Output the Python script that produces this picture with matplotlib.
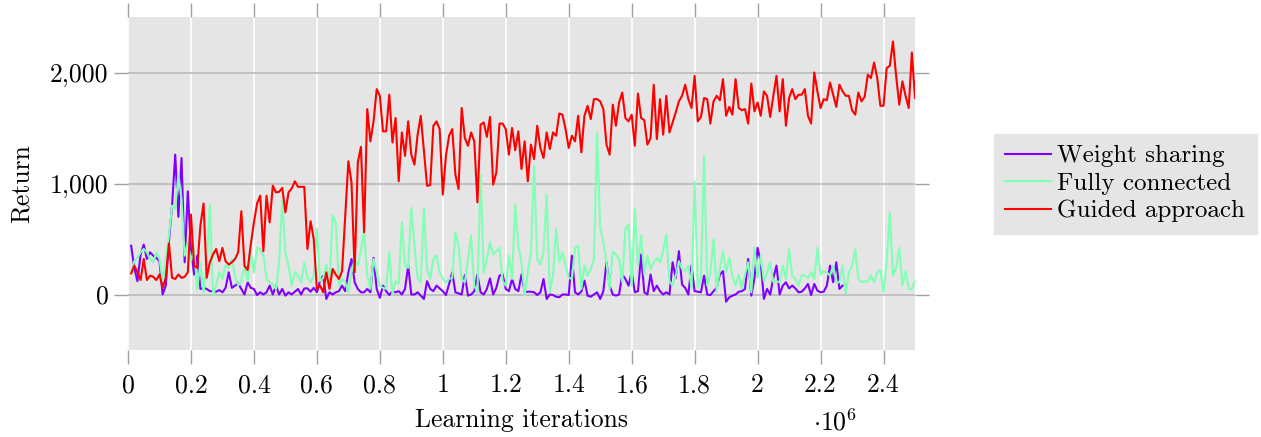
import numpy as np
import matplotlib
matplotlib.use("Agg")
import matplotlib.pyplot as plt
from matplotlib.ticker import FuncFormatter, MultipleLocator

# returns, one value every 1e4 iterations (starting at 1e4)
weight_sharing = [
    440, 240, 120, 360, 450, 320, 380, 350, 330, 300,
    0, 80, 480, 800, 1260, 700, 1230, 290, 930, 410,
    180, 350, 50, 60, 50, 30, 30, 25, 40, 20,
    60, 200, 60, 80, 100, 50, 0, 110, 60, 50,
    -5, 20, 0, 20, 80, 0, 80, 0, 50, -10,
    20, 0, 25, 50, 0, 55, 55, 25, 60, 20,
    120, 170, -40, 20, 0, 20, 30, 80, 30, 200,
    320, 110, 50, 20, 20, 50, 20, 330, 50, -30,
    80, 30, -5, 30, 20, 30, 0, 50, 260, 0,
    0, 20, -10, -40, 120, 50, 30, 80, 55, 30,
    -5, 95, 200, 20, 10, 0, 175, -10, 0, 30,
    180, 20, 0, 50, 145, 0, 60, 170, 180, 50,
    30, 140, 50, 30, 180, 20, 25, 25, 20, -5,
    20, 140, -40, 0, -5, -20, -25, 0, 0, -5,
    350, 20, 0, 25, 125, -10, -20, 0, 20, -40,
    30, 290, 80, 0, -10, 0, 180, 140, 80, 200,
    20, 30, 360, 20, 0, 180, 30, 80, 30, 0,
    20, 0, 290, 150, 390, 90, 60, 0, 260, 30,
    25, 20, 170, 0, -5, 30, 60, 180, 210, -65,
    -25, -10, 0, 25, 30, 50, 320, -10, 150, 420,
    290, -40, 50, 0, 150, 260, 0, 80, 110, 55,
    80, 55, 20, 25, 55, 95, -5, 95, 35, 20,
    25, 80, 260, 110, 290, 50, 80,
]

fully_connected = [
    200, 300, 330, 380, 410, 380, 320, 290, 380, 320,
    120, 320, 530, 800, 770, 1080, 860, 350, 470, 300,
    410, 50, 290, 20, 260, 810, -10, 80, 200, 140,
    260, 240, 320, 170, 80, 120, 260, 120, 380, 200,
    420, 410, 350, 140, 110, 90, 50, 290, 840, 380,
    260, 80, 200, 170, 110, 290, 150, 110, 170, 590,
    120, 150, 270, 110, 710, 650, 80, 140, 110, 20,
    200, 320, 260, 400, 560, 170, 50, 320, 200, 80,
    60, 50, 380, 0, 120, 100, 650, 260, 240, 780,
    440, 150, 110, 780, 230, 140, 320, 350, 200, 140,
    110, 140, 150, 560, 440, 140, 110, 320, 530, 80,
    20, 1080, 200, 320, 470, 360, 390, 420, 120, 80,
    350, 140, 810, 440, 290, -10, 200, 380, 1160, 320,
    270, 390, 900, 20, 170, 590, 290, 380, 260, 150,
    140, 420, 440, 50, 260, 170, 230, 320, 1460, 600,
    470, 290, 50, 390, 360, 320, 110, 590, 630, 80,
    770, 260, 530, 180, 350, 230, 290, 330, 290, 390,
    540, 120, 80, 170, 300, 230, 210, 260, 60, 1020,
    60, 150, 1250, 80, 200, 500, 30, 230, 390, 200,
    330, 170, 80, 180, 50, 180, 290, 20, 420, 150,
    350, 120, 200, 290, 110, 120, 110, 260, 140, 410,
    170, 140, 80, 175, 170, 150, 200, 140, 420, 180,
    210, 200, 170, 260, 110, 110, 260, 10, 200, 260,
    410, 140, 110, 120, 110, 170, 110, 200, 220, 20,
    300, 740, 170, 240, 420, 80, 210, 50, 50, 120,
]

guided = [
    190, 260, 200, 130, 320, 130, 170, 160, 130, 180,
    60, 150, 460, 150, 140, 180, 150, 160, 200, 720,
    260, 240, 620, 820, 150, 290, 360, 410, 300, 420,
    300, 270, 290, 320, 380, 750, 260, 220, 450, 650,
    820, 890, 390, 890, 650, 980, 920, 925, 960, 740,
    920, 955, 1020, 970, 970, 970, 410, 660, 500, 50,
    80, 20, 200, 50, 230, 180, 140, 210, 700, 1200,
    1010, 200, 1190, 1330, 560, 1670, 1380, 1560, 1850, 1790,
    1470, 1470, 1800, 1370, 1590, 1020, 1460, 1250, 1560, 1260,
    1170, 1440, 1610, 1290, 980, 985, 1520, 1560, 1490, 900,
    1250, 1430, 1490, 1080, 950, 1680, 1410, 1340, 1460, 1380,
    830, 1530, 1550, 1420, 1600, 990, 1100, 1540, 1540, 1490,
    1260, 1500, 1300, 1470, 1130, 1380, 1020, 1350, 1220, 1520,
    1320, 1230, 1460, 1310, 1460, 1430, 1630, 1620, 1490, 1320,
    1430, 1380, 1610, 1280, 1610, 1700, 1580, 1760, 1760, 1740,
    1670, 1350, 1260, 1710, 1520, 1730, 1820, 1590, 1560, 1620,
    1340, 1810, 1590, 1570, 1350, 1410, 1890, 1400, 1760, 1440,
    1790, 1460, 1550, 1640, 1740, 1790, 1890, 1760, 1680, 1970,
    1560, 1600, 1770, 1760, 1540, 1740, 1790, 1750, 1940, 1610,
    1690, 1620, 1940, 1680, 1660, 1670, 1540, 1900, 1650, 1730,
    1610, 1830, 1790, 1600, 1790, 1970, 1650, 1940, 1520, 1770,
    1850, 1760, 1800, 1800, 1850, 1610, 1540, 2000, 1830, 1680,
    1760, 1750, 1910, 1800, 1690, 1890, 1830, 1790, 1790, 1660,
    1620, 1820, 1740, 1780, 1980, 1950, 2090, 1950, 1700, 1700,
    2040, 2060, 2280, 1970, 1710, 1920, 1790, 1680, 2180, 1770,
]

labels = ["Weight sharing", "Fully connected", "Guided approach"]
step = 1e4

plt.rcParams["font.family"] = ["cmr10", "DejaVu Serif"]
plt.rcParams["mathtext.fontset"] = "cm"
plt.rcParams["axes.unicode_minus"] = False
plt.rcParams["axes.formatter.use_mathtext"] = True

fig = plt.figure(figsize=(12.61, 4.37), dpi=100)
ax = fig.add_axes([128 / 1261, 87 / 437, 787 / 1261, 333 / 437])
ax.set_facecolor("#e5e5e5")
for s in ax.spines.values():
    s.set_visible(False)

cols = plt.cm.rainbow([0.0, 0.5, 1.0])
for data, lab, c in zip([weight_sharing, fully_connected, guided], labels, cols):
    xs = np.arange(1, len(data) + 1) * step
    ax.plot(xs, data, color=c, lw=1.5, label=lab, zorder=3)

ax.set_xlim(0, 2.5e6)
ax.set_ylim(-500, 2500)
ax.xaxis.set_major_locator(MultipleLocator(2e5))
ax.set_yticks([0, 1000, 2000])
ax.xaxis.set_major_formatter(FuncFormatter(lambda v, p: f"{v / 1e6:g}"))
ax.yaxis.set_major_formatter(FuncFormatter(lambda v, p: f"{v:,.0f}"))
ax.xaxis.grid(True, color="white", lw=1.2, zorder=1)
ax.yaxis.grid(True, color="#bababa", lw=1.2, zorder=1)
ax.set_axisbelow(True)

ax.tick_params(axis="both", direction="out", length=10, width=1, color="#a0a0a0",
               labelsize=18.5, top=True, right=True)
ax.tick_params(axis="x", pad=7)
ax.tick_params(axis="y", pad=4)

ax.set_xlabel("Learning iterations", fontsize=18.5, labelpad=8)
ax.set_ylabel("Return", fontsize=18.5, labelpad=12)
fig.text(835 / 1261, 15 / 437, r"$\cdot 10^{6}$", fontsize=18.5, ha="center", va="center")

leg = ax.legend(loc="center left", bbox_to_anchor=(1.1, 0.5), fontsize=18,
                frameon=True, fancybox=False, facecolor="#e5e5e5", edgecolor="#e5e5e5",
                handlelength=1.85, handletextpad=0.25, labelspacing=0.2, borderpad=0.45,
                borderaxespad=0)
leg.get_frame().set_alpha(1)
for h in leg.get_lines():
    h.set_linewidth(1.5)

fig.savefig("out.png", dpi=100)
